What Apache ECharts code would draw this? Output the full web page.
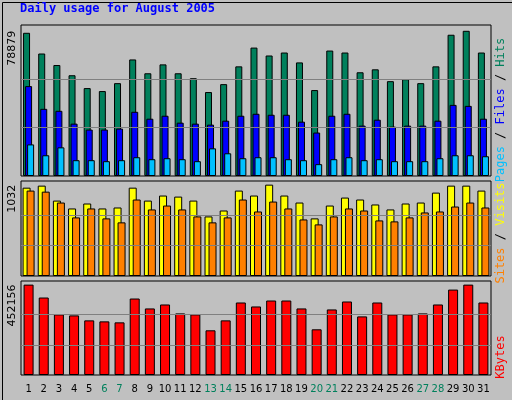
<!DOCTYPE html><html><head><meta charset="utf-8">
<script src="https://cdn.jsdelivr.net/npm/echarts@6/dist/echarts.min.js"></script>
<style>html,body{margin:0;padding:0;background:#c0c0c0}#c{width:512px;height:400px}</style></head><body><div id="c"></div>
<script>
const days = Array.from({length:31},(_,i)=>String(i+1));
const weekends = ['6','7','13','14','20','21','27','28'];
const hits = [77800,66550,60290,54740,47760,46150,50440,63320,55810,60640,55810,53130,45610,49910,59570,69760,65470,67080,61710,46690,68150,67080,56350,57960,51520,52590,50440,59570,76740,78879,67080];
const files = [48840,36490,35420,28440,25220,25220,25760,34880,31120,32740,28980,28440,27910,30050,32740,33810,33270,33270,29520,23610,32740,33810,27370,30590,26830,27370,27370,30050,38640,38100,31120];
const pages = [17170,11270,15560,8590,8590,8050,8590,10200,9120,9660,9120,8050,15030,12340,9660,10200,10200,9120,8590,6440,9120,10200,8590,9120,8050,8050,8050,9660,11270,11270,10730];
const visits = [998,1021,852,763,819,763,774,998,852,909,897,852,673,740,965,909,1032,909,830,651,796,886,864,808,752,819,830,942,1021,1021,965];
const sites = [965,953,830,662,763,651,606,864,752,796,752,673,606,662,864,729,841,763,639,583,673,763,740,628,617,662,718,729,785,830,774];
const kbytes = [452156,387580,303100,298130,273290,268320,263350,382600,332920,352790,308070,303100,223600,273290,362730,342850,372660,372660,332920,228570,327950,367700,293160,362730,303100,303100,308070,352790,427320,452156,362730];
const maxHits = 78879, maxVisits = 1032, maxKB = 452156;

const grids = [
 {left:21,right:21,top:25,height:151},
 {left:21,right:21,top:181,height:95},
 {left:21,right:21,top:281,height:94}
];
function xa(i){return {type:'category',gridIndex:i,data:days,boundaryGap:true,
 axisLine:{show:false},axisTick:{show:false},
 axisLabel:{show:i===2,interval:0,fontFamily:'DejaVu Sans',fontSize:10,margin:9,
   color:(v)=>weekends.includes(v)?'#00805c':'#000000'}};}
function ya(i,max){return {type:'value',gridIndex:i,min:0,max:max*1.04,
 axisLine:{show:false},axisTick:{show:false},splitLine:{show:false},
 axisLabel:{rotate:90,fontFamily:'DejaVu Sans',fontSize:11,color:'#000',margin:3,
   customValues:[max],formatter:(v)=>String(max),verticalAlign:'bottom',align:'right'}};}
function grid3(max){return {silent:true,symbol:'none',label:{show:false},
 lineStyle:{color:'#808080',type:'solid',width:1},data:[{yAxis:max/3},{yAxis:2*max/3}]};}
const bs = {borderColor:'#000',borderWidth:1};
const chart = echarts.init(document.getElementById('c'));
chart.setOption({
 backgroundColor:'#c0c0c0',animation:false,
 grid:grids.map(g=>Object.assign({show:true,backgroundColor:'#c0c0c0',borderColor:'#000',borderWidth:1},g)),
 xAxis:[xa(0),xa(1),xa(2)],
 yAxis:[ya(0,maxHits),ya(1,maxVisits),ya(2,maxKB)],
 series:[
  {type:'bar',xAxisIndex:0,yAxisIndex:0,data:hits,barWidth:7,barGap:'-71%',itemStyle:Object.assign({color:'#00805c'},bs),markLine:grid3(maxHits),z:2},
  {type:'bar',xAxisIndex:0,yAxisIndex:0,data:files,barWidth:7,barGap:'-71%',itemStyle:Object.assign({color:'#0000ff'},bs),z:2},
  {type:'bar',xAxisIndex:0,yAxisIndex:0,data:pages,barWidth:7,barGap:'-71%',itemStyle:Object.assign({color:'#00c0ff'},bs),z:2},
  {type:'bar',xAxisIndex:1,yAxisIndex:1,data:visits,barWidth:8,barGap:'-50%',itemStyle:Object.assign({color:'#ffff00'},bs),markLine:grid3(maxVisits),z:2},
  {type:'bar',xAxisIndex:1,yAxisIndex:1,data:sites,barWidth:8,barGap:'-50%',itemStyle:Object.assign({color:'#ff8000'},bs),z:2},
  {type:'bar',xAxisIndex:2,yAxisIndex:2,data:kbytes,barWidth:10,itemStyle:Object.assign({color:'#ff0000'},bs),markLine:grid3(maxKB),z:2}
 ],
 graphic:[
  {type:'rect',left:0,top:0,shape:{width:511,height:399},style:{fill:'none',stroke:'#000',lineWidth:1},z:-1},
  {type:'text',left:20,top:3,style:{text:'Daily usage for August 2005',fill:'#0000ff',font:'bold 12px "DejaVu Sans Mono"'}},
  {type:'text',x:495,y:110,rotation:Math.PI/2,style:{text:'{a|Pages} / {b|Files} / {c|Hits}',align:'center',verticalAlign:'top',font:'12px "DejaVu Sans Mono"',fill:'#000',
    rich:{a:{fill:'#00c0ff',font:'12px "DejaVu Sans Mono"'},b:{fill:'#0000ff',font:'12px "DejaVu Sans Mono"'},c:{fill:'#00805c',font:'12px "DejaVu Sans Mono"'}}}},
  {type:'text',x:495,y:233,rotation:Math.PI/2,style:{text:'{a|Sites} / {b|Visits}',align:'center',verticalAlign:'top',font:'12px "DejaVu Sans Mono"',fill:'#000',
    rich:{a:{fill:'#ff8000',font:'12px "DejaVu Sans Mono"'},b:{fill:'#ffff00',font:'12px "DejaVu Sans Mono"'}}}},
  {type:'text',x:495,y:357,rotation:Math.PI/2,style:{text:'KBytes',align:'center',verticalAlign:'top',fill:'#ff0000',font:'12px "DejaVu Sans Mono"'}}
 ]
});
</script></body></html>
